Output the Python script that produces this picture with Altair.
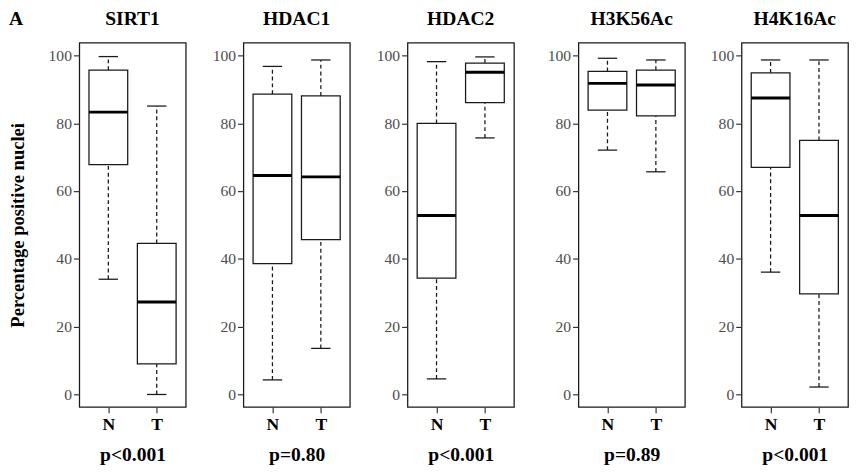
import altair as alt
import pandas as pd

# ---- data ----
markers = ["SIRT1", "HDAC1", "HDAC2", "H3K56Ac", "H4K16Ac"]
p_values = ["p<0.001", "p=0.80", "p<0.001", "p=0.89", "p<0.001"]
groups = ["N", "T"]
group_pos = [1, 2]

low_N = [34.0, 4.3, 4.6, 72.1, 36.1]
q1_N = [67.8, 38.6, 34.3, 83.9, 67.0]
med_N = [83.3, 64.6, 52.8, 91.8, 87.5]
q3_N = [95.7, 88.6, 80.0, 95.3, 94.9]
high_N = [99.7, 96.8, 98.2, 99.2, 98.7]

low_T = [0.0, 13.6, 75.7, 65.7, 2.2]
q1_T = [9.0, 45.7, 86.1, 82.2, 29.7]
med_T = [27.3, 64.2, 95.1, 91.3, 52.8]
q3_T = [44.6, 88.1, 97.8, 95.7, 75.0]
high_T = [85.1, 98.7, 99.6, 98.7, 98.7]

y_ticks = [0, 20, 40, 60, 80, 100]
panel_letter = "A"

rows = []
for i, m in enumerate(markers):
    for g, pos, lo, q1, md, q3, hi in [
        (groups[0], group_pos[0], low_N[i], q1_N[i], med_N[i], q3_N[i], high_N[i]),
        (groups[1], group_pos[1], low_T[i], q1_T[i], med_T[i], q3_T[i], high_T[i]),
    ]:
        rows.append(dict(marker=m, group=g, pos=pos, lo=lo, q1=q1, med=md, q3=q3, hi=hi))
df = pd.DataFrame(rows)

FONT = "Liberation Serif"
W, H = 109, 373
Y_DOMAIN = [-3.7, 103.8]
X_DOMAIN = [0.4, 2.6]
LINE = "#1a1a1a"


def panel(i):
    m = markers[i]
    d = df[df.marker == m]
    xaxis = alt.Axis(values=group_pos, labelExpr="datum.value == 1 ? 'N' : 'T'")
    xscale = alt.Scale(domain=X_DOMAIN, nice=False, zero=False)
    yscale = alt.Scale(domain=Y_DOMAIN, nice=False, zero=False)
    yaxis = alt.Axis(values=y_ticks)
    ytitle = "Percentage positive nuclei" if i == 0 else None

    def X(f):
        return alt.X(f, type="quantitative", scale=xscale, axis=xaxis, title=p_values[i])

    def Y(f):
        return alt.Y(f, type="quantitative", scale=yscale, axis=yaxis, title=ytitle)

    base = alt.Chart(d).transform_calculate(
        x0="datum.pos - 0.4", x1="datum.pos + 0.4",
        c0="datum.pos - 0.2", c1="datum.pos + 0.2",
    )
    whisk_lo = base.mark_rule(color=LINE, strokeWidth=1.3, strokeDash=[4, 3]).encode(
        x=X("pos"), y=Y("lo"), y2="q1:Q")
    whisk_hi = base.mark_rule(color=LINE, strokeWidth=1.3, strokeDash=[4, 3]).encode(
        x=X("pos"), y=Y("q3"), y2="hi:Q")
    cap_lo = base.mark_rule(color=LINE, strokeWidth=1.3).encode(
        x=X("c0"), x2="c1:Q", y=Y("lo"))
    cap_hi = base.mark_rule(color=LINE, strokeWidth=1.3).encode(
        x=X("c0"), x2="c1:Q", y=Y("hi"))
    box = base.mark_rect(fill="white", stroke=LINE, strokeWidth=1.3).encode(
        x=X("x0"), x2="x1:Q", y=Y("q1"), y2="q3:Q")
    median = base.mark_rule(color="black", strokeWidth=3).encode(
        x=X("x0"), x2="x1:Q", y=Y("med"))
    title = alt.Chart(pd.DataFrame({"t": [m]})).mark_text(
        font=FONT, fontSize=20, fontWeight="bold", align="center",
        baseline="alphabetic", color="black",
    ).encode(text="t:N", x=alt.value(W / 2), y=alt.value(-18))
    layers = [whisk_lo, whisk_hi, cap_lo, cap_hi, box, median, title]
    if i == 0:
        letter = alt.Chart(pd.DataFrame({"t": [panel_letter]})).mark_text(
            font=FONT, fontSize=20, fontWeight="bold", align="left",
            baseline="alphabetic", color="black",
        ).encode(text="t:N", x=alt.value(-72), y=alt.value(-18))
        layers.append(letter)
    return alt.layer(*layers).properties(width=W, height=H)


left = alt.hconcat(panel(0), panel(1), panel(2), spacing=18)
right = alt.hconcat(panel(3), panel(4), spacing=17)
chart = alt.hconcat(left, right, spacing=25).properties(
    padding={"top": -5, "bottom": 0, "left": 0, "right": 0},
).configure_view(
    stroke=LINE, strokeWidth=1.3
).configure_axis(
    grid=False, domain=False, tickColor="#333333", tickWidth=1.2, tickSize=6,
    labelFont=FONT, titleFont=FONT,
).configure_axisY(
    labelFontSize=16, labelColor="#4d4d4d", labelPadding=2,
    minExtent=39, maxExtent=39,
    titleFontSize=19, titleFontWeight="bold", titleColor="black", titlePadding=14,
).configure_axisX(
    labelFontSize=18, labelFontWeight="bold", labelColor="black", labelPadding=3,
    titleFontSize=20, titleFontWeight="bold", titleColor="black", titlePadding=12,
)

chart.save("out.html", embed_options={"renderer": "svg", "actions": False})
